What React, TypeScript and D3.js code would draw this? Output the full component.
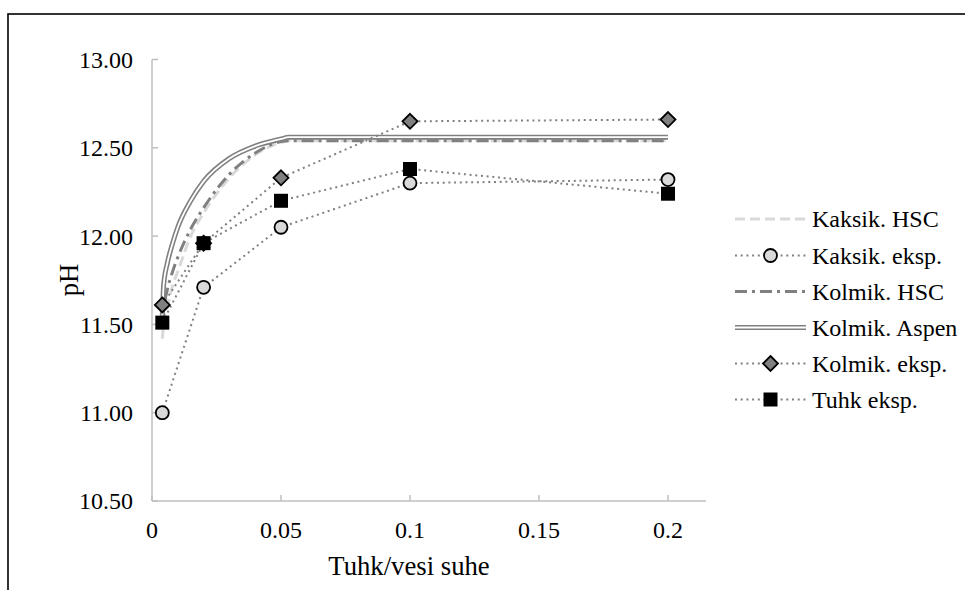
import React from "react";
import * as d3 from "d3";

const xTicks = [0, 0.05, 0.1, 0.15, 0.2];
const xTickLabels = ["0", "0.05", "0.1", "0.15", "0.2"];
const yTicks = [10.5, 11.0, 11.5, 12.0, 12.5, 13.0];
const yTickLabels = ["10.50", "11.00", "11.50", "12.00", "12.50", "13.00"];

const expX = [0.004, 0.02, 0.05, 0.1, 0.2];
const kaksikEksp = [11.0, 11.71, 12.05, 12.3, 12.32];
const kolmikEksp = [11.61, 11.96, 12.33, 12.65, 12.66];
const tuhkEksp = [11.51, 11.96, 12.2, 12.38, 12.24];

const modelX = [0.004, 0.0045, 0.006, 0.008, 0.01, 0.015, 0.02, 0.03, 0.04, 0.05, 0.053, 0.1, 0.2];
const kaksikHSC = [11.42, 11.5, 11.6, 11.72, 11.8, 12.0, 12.13, 12.33, 12.46, 12.53, 12.54, 12.54, 12.54];
const kolmikHSC = [11.5, 11.58, 11.7, 11.8, 11.88, 12.04, 12.16, 12.35, 12.47, 12.535, 12.54, 12.54, 12.54];
const kolmikAspen = [11.55, 11.72, 11.85, 11.96, 12.05, 12.2, 12.31, 12.44, 12.51, 12.55, 12.56, 12.56, 12.56];

const legendLabels = ["Kaksik. HSC", "Kaksik. eksp.", "Kolmik. HSC", "Kolmik. Aspen", "Kolmik. eksp.", "Tuhk eksp."];

const FONT = "Liberation Serif, Times New Roman, serif";

export default function App() {
  const x = d3.scaleLinear().domain([0, 0.2]).range([152, 668]);
  const y = d3.scaleLinear().domain([10.5, 13]).range([501, 59.5]);
  const line = d3
    .line<[number, number]>()
    .x((d) => x(d[0]))
    .y((d) => y(d[1]))
    .curve(d3.curveMonotoneX);
  const lineStraight = d3
    .line<[number, number]>()
    .x((d) => x(d[0]))
    .y((d) => y(d[1]));

  const pts = (xs: number[], ys: number[]) => xs.map((v, i) => [v, ys[i]] as [number, number]);

  const dotted = { stroke: "#808080", strokeWidth: 2, strokeDasharray: "2,3.7", fill: "none" };
  const ts = { fontFamily: FONT };

  const circle = (cx: number, cy: number, k: string) => (
    <circle key={k} cx={cx} cy={cy} r={6.5} fill="#d9d9d9" stroke="#000" strokeWidth={1.8} />
  );
  const diamond = (cx: number, cy: number, k: string) => (
    <path
      key={k}
      d={`M${cx},${cy - 7.5}L${cx + 7.5},${cy}L${cx},${cy + 7.5}L${cx - 7.5},${cy}Z`}
      fill="#808080"
      stroke="#000"
      strokeWidth={1.8}
    />
  );
  const square = (cx: number, cy: number, k: string) => (
    <rect key={k} x={cx - 7} y={cy - 7} width={14} height={14} fill="#000" />
  );

  const legendY = [219, 255.5, 291.5, 327.5, 363.5, 399.5];
  const lx0 = 735;
  const lx1 = 806;

  return (
    <svg
      width={965}
      height={590}
      style={{ position: "absolute", left: 0, top: 0, background: "#fff", fontFamily: FONT }}
    >
      <rect x={8} y={14} width={1200} height={1000} fill="#fff" stroke="#000" strokeWidth={1.6} />

      {/* axes */}
      <line x1={152} x2={152} y1={59.5} y2={501} stroke="#bfbfbf" strokeWidth={1.5} />
      <line x1={152} x2={706} y1={501} y2={501} stroke="#bfbfbf" strokeWidth={1.5} />
      {yTicks.map((t, i) => (
        <g key={"yt" + i}>
          <line x1={152} x2={158} y1={y(t)} y2={y(t)} stroke="#bfbfbf" strokeWidth={1.5} />
          <text x={133} y={y(t)} dy="0.35em" textAnchor="end" fontSize={24} style={ts}>
            {yTickLabels[i]}
          </text>
        </g>
      ))}
      {xTicks.map((t, i) => (
        <g key={"xt" + i}>
          <line x1={x(t)} x2={x(t)} y1={501} y2={495} stroke="#bfbfbf" strokeWidth={1.5} />
          <text x={x(t)} y={538} textAnchor="middle" fontSize={24} style={ts}>
            {xTickLabels[i]}
          </text>
        </g>
      ))}
      <text x={409} y={575} textAnchor="middle" fontSize={26.7} style={ts}>
        Tuhk/vesi suhe
      </text>
      <text transform="translate(78,280) rotate(-90)" textAnchor="middle" fontSize={26.7} style={ts}>
        pH
      </text>

      {/* model lines */}
      <path d={line(pts(modelX, kaksikHSC)) || ""} fill="none" stroke="#d9d9d9" strokeWidth={3} strokeDasharray="10,5" />
      <path d={line(pts(modelX, kolmikHSC)) || ""} fill="none" stroke="#808080" strokeWidth={3} strokeDasharray="12,5,3,5" />
      <path d={line(pts(modelX, kolmikAspen)) || ""} fill="none" stroke="#808080" strokeWidth={5} />
      <path d={line(pts(modelX, kolmikAspen)) || ""} fill="none" stroke="#fff" strokeWidth={1.8} />

      {/* experimental */}
      <path d={lineStraight(pts(expX, kaksikEksp)) || ""} {...dotted} />
      <path d={lineStraight(pts(expX, kolmikEksp)) || ""} {...dotted} />
      <path d={lineStraight(pts(expX, tuhkEksp)) || ""} {...dotted} />
      {expX.map((v, i) => circle(x(v), y(kaksikEksp[i]), "c" + i))}
      {expX.map((v, i) => diamond(x(v), y(kolmikEksp[i]), "d" + i))}
      {expX.map((v, i) => square(x(v), y(tuhkEksp[i]), "s" + i))}

      {/* legend */}
      <line x1={lx0} x2={lx1} y1={legendY[0]} y2={legendY[0]} stroke="#d9d9d9" strokeWidth={3} strokeDasharray="10,5" />
      <line x1={lx0} x2={lx1} y1={legendY[1]} y2={legendY[1]} {...dotted} />
      {circle((lx0 + lx1) / 2, legendY[1], "lc")}
      <line x1={lx0} x2={lx1} y1={legendY[2]} y2={legendY[2]} stroke="#808080" strokeWidth={3} strokeDasharray="12,5,3,5" />
      <line x1={lx0} x2={lx1} y1={legendY[3]} y2={legendY[3]} stroke="#808080" strokeWidth={5} />
      <line x1={lx0} x2={lx1} y1={legendY[3]} y2={legendY[3]} stroke="#fff" strokeWidth={1.8} />
      <line x1={lx0} x2={lx1} y1={legendY[4]} y2={legendY[4]} {...dotted} />
      {diamond((lx0 + lx1) / 2, legendY[4], "ld")}
      <line x1={lx0} x2={lx1} y1={legendY[5]} y2={legendY[5]} {...dotted} />
      {square((lx0 + lx1) / 2, legendY[5], "ls")}
      {legendLabels.map((l, i) => (
        <text key={"lg" + i} x={812} y={legendY[i]} dy="0.35em" fontSize={24} style={ts}>
          {l}
        </text>
      ))}
    </svg>
  );
}
